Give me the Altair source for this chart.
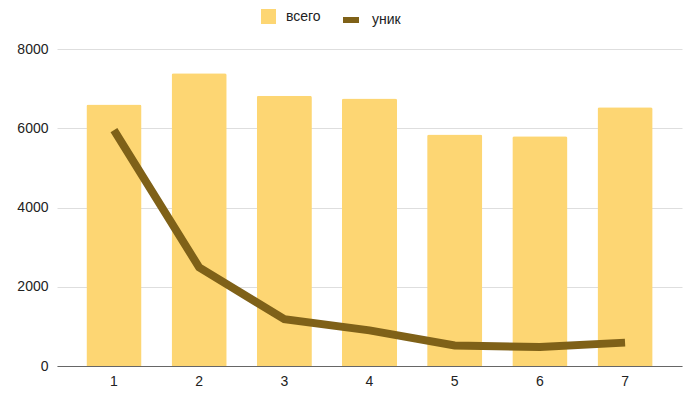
import altair as alt
import pandas as pd

# Day number, total count and unique count per day
days = [1, 2, 3, 4, 5, 6, 7]
total = [6600, 7390, 6820, 6750, 5840, 5800, 6530]
unique = [5950, 2490, 1180, 900, 520, 480, 590]

df = pd.DataFrame({"day": days, "total": total, "unique": unique})

BAR_COLOR = "#FDD673"
LINE_COLOR = "#7F6118"
FONT = "Liberation Sans"
TEXT_COLOR = "#222222"

x_enc = alt.X(
    "day:O",
    title=None,
    scale=alt.Scale(paddingInner=0.353, paddingOuter=0.345),
    axis=alt.Axis(
        labelAngle=0,
        labelFontSize=14,
        labelColor=TEXT_COLOR,
        labelPadding=8,
        ticks=False,
        domainColor="#666666",
        domainWidth=1,
        grid=False,
    ),
)

y_scale = alt.Scale(domain=[0, 8000], nice=False)
y_axis = alt.Axis(
    values=[0, 2000, 4000, 6000, 8000],
    format="d",
    labelFontSize=14,
    labelColor=TEXT_COLOR,
    labelPadding=9,
    ticks=False,
    domain=False,
    gridColor="#DEDEDE",
    gridWidth=1,
)

legend_common = dict(
    title=None,
    orient="none",
    legendY=-40,
    labelFontSize=14,
    labelColor=TEXT_COLOR,
    labelFont=FONT,
    labelOffset=10,
)

bars = alt.Chart(df).mark_bar(cornerRadiusTopLeft=2, cornerRadiusTopRight=2).encode(
    x=x_enc,
    y=alt.Y("total:Q", title=None, scale=y_scale, axis=y_axis),
    color=alt.Color(
        "series_a:N",
        scale=alt.Scale(domain=["всего"], range=[BAR_COLOR]),
        legend=alt.Legend(
            legendX=204,
            symbolType="square",
            symbolSize=225,
            symbolStrokeWidth=0,
            **legend_common,
        ),
    ),
).transform_calculate(series_a="'всего'")

line = alt.Chart(df).mark_line(strokeWidth=8, strokeCap="butt", strokeJoin="miter").encode(
    x=alt.X("day:O"),
    y=alt.Y("unique:Q", scale=y_scale),
    color=alt.Color(
        "series_b:N",
        scale=alt.Scale(domain=["уник"], range=[LINE_COLOR]),
        legend=alt.Legend(
            legendX=283,
            symbolType="stroke",
            symbolSize=256,
            symbolStrokeWidth=6,
            **legend_common,
        ),
    ),
).transform_calculate(series_b="'уник'")

chart = (
    alt.layer(bars, line)
    .resolve_scale(color="independent")
    .properties(
        width=625,
        height=317,
        autosize=alt.AutoSizeParams(type="none"),
        padding={"left": 57, "top": 49, "right": 11, "bottom": 29},
        background="white",
    )
    .configure_view(stroke=None)
    .configure_axis(labelFont=FONT)
)

chart.save("out.html", embed_options={"renderer": "svg", "actions": False})
